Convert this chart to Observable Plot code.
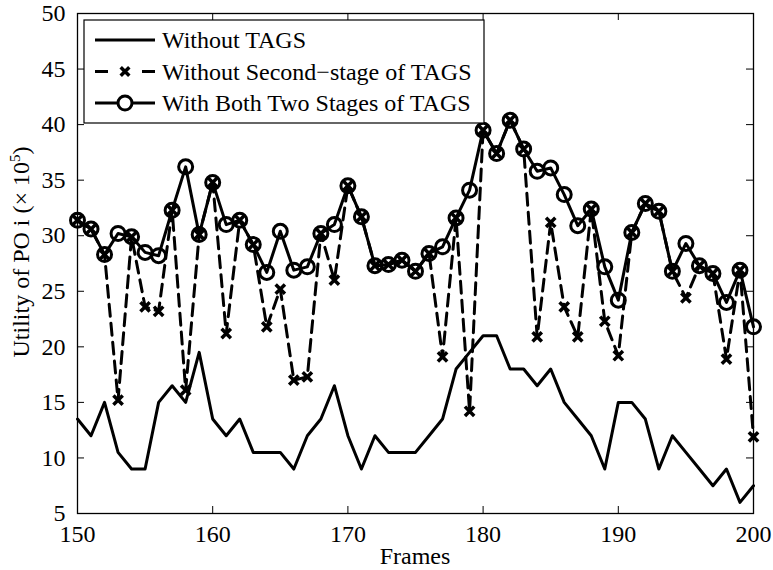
<!DOCTYPE html>
<html>
<head>
<meta charset="utf-8">
<script src="https://cdn.jsdelivr.net/npm/d3@7"></script>
<script src="https://cdn.jsdelivr.net/npm/@observablehq/plot@0.6"></script>
<style>
  body { margin: 0; background: #fff; }
  #chart { width: 773px; height: 570px; }
</style>
</head>
<body>
<div id="chart"></div>
<script>
// Frame indices along the x axis
const frames = [150,151,152,153,154,155,156,157,158,159,160,161,162,163,164,165,166,167,168,169,170,
  171,172,173,174,175,176,177,178,179,180,181,182,183,184,185,186,187,188,189,190,
  191,192,193,194,195,196,197,198,199,200];

// Utility of PO i (×10^5) for each scheme
const withoutTAGS = [13.5,12,15,10.5,9,9,15,16.5,15,19.5,13.5,12,13.5,10.5,10.5,10.5,9,12,13.5,16.5,12,
  9,12,10.5,10.5,10.5,12,13.5,18,19.5,21,21,18,18,16.5,18,15,13.5,12,9,15,
  15,13.5,9,12,10.5,9,7.5,9,6,7.5];

const withoutSecondStage = [31.4,30.6,28.3,15.2,29.9,23.6,23.2,32.3,16.1,30.1,34.8,21.2,31.4,29.2,21.8,25.2,17.0,17.3,30.2,26.0,34.5,
  31.7,27.3,27.4,27.8,26.8,28.4,19.1,31.6,14.2,39.5,37.4,40.4,37.8,20.9,31.2,23.6,20.9,32.4,22.3,19.2,
  30.3,32.9,32.2,26.8,24.4,27.3,26.6,18.9,26.9,11.9];

const withBothStages = [31.4,30.6,28.3,30.2,29.9,28.5,28.2,32.3,36.2,30.1,34.8,31.0,31.4,29.2,26.7,30.4,26.9,27.2,30.2,31.0,34.5,
  31.7,27.3,27.4,27.8,26.8,28.4,29.0,31.6,34.1,39.5,37.4,40.4,37.8,35.8,36.1,33.7,30.9,32.4,27.2,24.2,
  30.3,32.9,32.2,26.8,29.3,27.3,26.6,24.0,26.9,21.8];

const seriesNames = ["Without TAGS", "Without Second\u2212stage of TAGS", "With Both Two Stages of TAGS"];

const xTicks = [150,160,170,180,190,200];
const yTicks = [5,10,15,20,25,30,35,40,45,50];

const W = 773, H = 570;
const mL = 77, mR = 20, mT = 13, mB = 57;
const innerW = W - mL - mR, innerH = H - mT - mB;
const tickLen = 7;
const font = "Liberation Serif, Times New Roman, serif";

const chart = Plot.plot({
  width: W,
  height: H,
  marginLeft: mL,
  marginRight: mR,
  marginTop: mT,
  marginBottom: mB,
  style: { fontFamily: font, fontSize: "24px", background: "#fff", color: "#000" },
  x: { domain: [150, 200] },
  y: { domain: [5, 50] },
  marks: [
    // inward ticks on all four sides
    Plot.tickX(xTicks, { x: d => d, stroke: "#000", strokeWidth: 1, insetTop: innerH - tickLen }),
    Plot.tickX(xTicks, { x: d => d, stroke: "#000", strokeWidth: 1, insetBottom: innerH - tickLen }),
    Plot.tickY(yTicks, { y: d => d, stroke: "#000", strokeWidth: 1, insetRight: innerW - tickLen }),
    Plot.tickY(yTicks, { y: d => d, stroke: "#000", strokeWidth: 1, insetLeft: innerW - tickLen }),
    Plot.axisX(xTicks, { tickSize: 0, tickPadding: 11, fontSize: 24, label: null }),
    Plot.axisY(yTicks, { tickSize: 0, tickPadding: 12, fontSize: 24, label: null }),
    Plot.frame({ stroke: "#000", strokeWidth: 1.3 }),

    // Without TAGS
    Plot.line(withoutTAGS, { x: frames, y: withoutTAGS, stroke: "#000", strokeWidth: 3 }),

    // Without second stage: dashed with crosses
    Plot.line(withoutSecondStage, { x: frames, y: withoutSecondStage, stroke: "#000", strokeWidth: 3, strokeDasharray: "12,7" }),
    Plot.dot(withoutSecondStage, { x: frames, y: withoutSecondStage, symbol: "times", r: 4.3, stroke: "#000", strokeWidth: 3.5 }),

    // With both stages: solid with circles
    Plot.line(withBothStages, { x: frames, y: withBothStages, stroke: "#000", strokeWidth: 3 }),
    Plot.dot(withBothStages, { x: frames, y: withBothStages, symbol: "circle", r: 7, stroke: "#000", strokeWidth: 3, fill: "none" })
  ]
});

const svg = d3.select(chart);

// Axis titles
svg.append("text")
  .attr("x", mL + innerW / 2)
  .attr("y", 564)
  .attr("text-anchor", "middle")
  .attr("font-family", font)
  .attr("font-size", 24)
  .attr("fill", "#000")
  .text("Frames");

const yl = svg.append("text")
  .attr("transform", "translate(29,252) rotate(-90)")
  .attr("text-anchor", "middle")
  .attr("font-family", font)
  .attr("font-size", 24)
  .attr("fill", "#000");
yl.append("tspan").text("Utility of PO i (\u00d7 10");
yl.append("tspan").attr("font-size", 15).attr("dy", -9).text("5");
yl.append("tspan").attr("dy", 9).text(")");

// Legend box in the upper left of the plot area
const lg = svg.append("g").attr("transform", "translate(84,20)");
lg.append("rect")
  .attr("width", 400).attr("height", 103)
  .attr("fill", "#fff").attr("stroke", "#000").attr("stroke-width", 1.2);

const rowY = [20, 51.5, 83];
seriesNames.forEach((name, i) => {
  const g = lg.append("g").attr("transform", `translate(0,${rowY[i]})`);
  const line = g.append("line")
    .attr("x1", 11).attr("x2", 71).attr("y1", 0).attr("y2", 0)
    .attr("stroke", "#000").attr("stroke-width", 3);
  if (i === 1) {
    line.attr("stroke-dasharray", "13,34");
    g.append("path")
      .attr("transform", "translate(41,0)")
      .attr("d", "M-4.3,-4.3L4.3,4.3M4.3,-4.3L-4.3,4.3")
      .attr("stroke", "#000").attr("stroke-width", 3.5);
  }
  if (i === 2) {
    g.append("circle").attr("cx", 41).attr("cy", 0).attr("r", 7)
      .attr("fill", "#fff").attr("stroke", "#000").attr("stroke-width", 3);
  }
  g.append("text")
    .attr("x", 78).attr("y", 0).attr("dy", "0.35em")
    .attr("text-anchor", "start")
    .attr("font-family", font).attr("font-size", 24).attr("fill", "#000")
    .text(name);
});

document.getElementById("chart").appendChild(chart);
</script>
</body>
</html>
